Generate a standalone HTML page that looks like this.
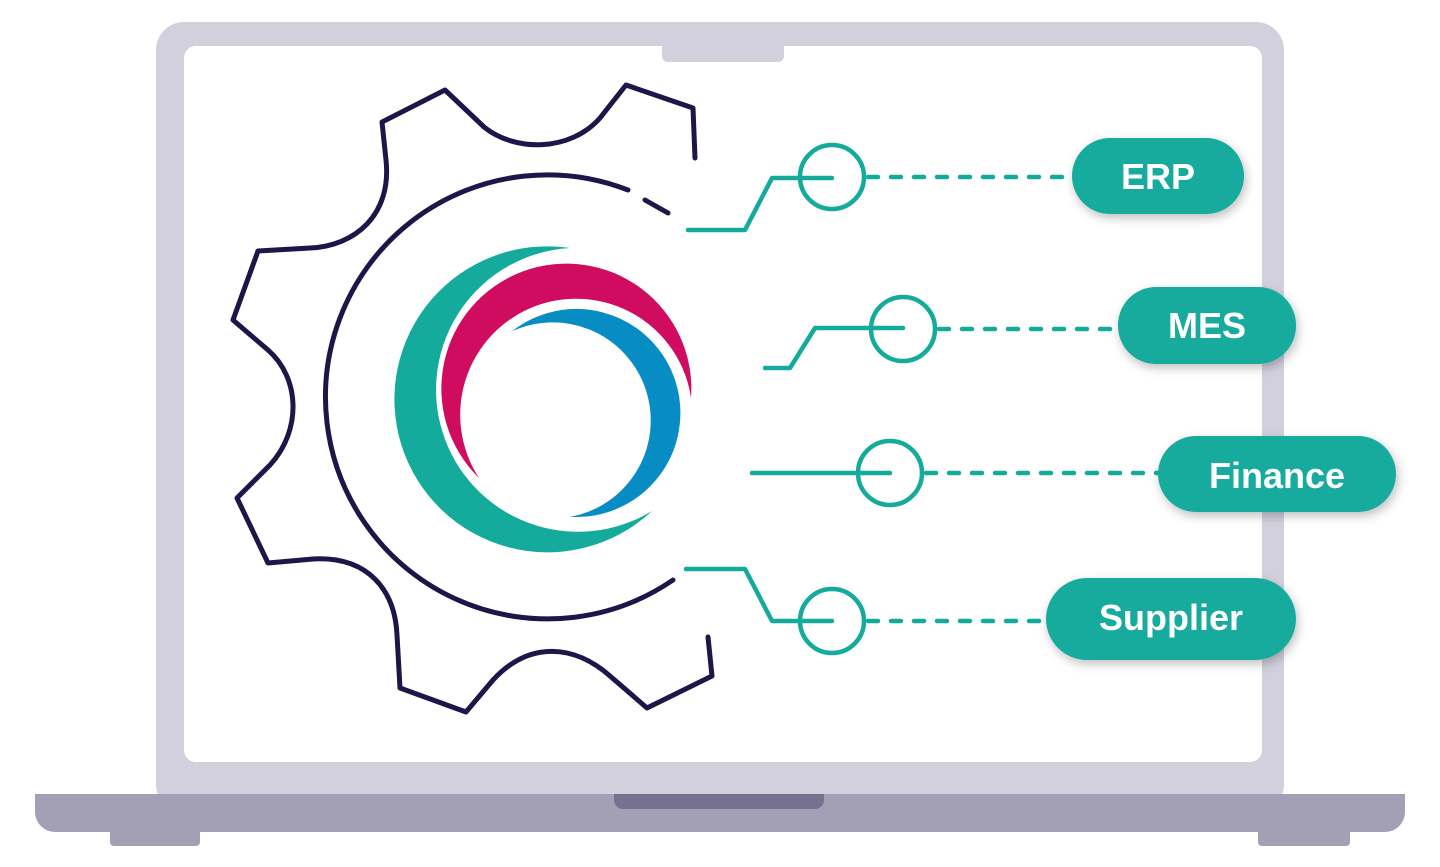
<!DOCTYPE html>
<html><head><meta charset="utf-8"><style>
html,body{margin:0;padding:0;background:#fff;width:1440px;height:867px;overflow:hidden}
svg{display:block}
text{font-family:"Liberation Sans",Arial,sans-serif;font-weight:bold;fill:#fff}
</style></head><body>
<svg width="1440" height="867" viewBox="0 0 1440 867" xmlns="http://www.w3.org/2000/svg">
<defs>
<filter id="sh" x="-20%" y="-30%" width="140%" height="170%"><feDropShadow dx="2" dy="4" stdDeviation="5" flood-color="#000" flood-opacity="0.25"/></filter>
</defs>
<!-- laptop -->
<rect x="156" y="22" width="1128" height="790" rx="28" fill="#d2d0dc"/>
<rect x="184" y="46" width="1078" height="716" rx="12" fill="#fff"/>
<path d="M662 46 H784 V56 a6 6 0 0 1 -6 6 H668 a6 6 0 0 1 -6 -6Z" fill="#d2d0dc"/>
<path d="M35 794 H1405 V812 a20 20 0 0 1 -20 20 H55 a20 20 0 0 1 -20 -20Z" fill="#a39fb5"/>
<path d="M614 794 H824 V800 a9 9 0 0 1 -9 9 H623 a9 9 0 0 1 -9 -9Z" fill="#77708f"/>
<path d="M110 832 H200 V842 a4 4 0 0 1 -4 4 H114 a4 4 0 0 1 -4 -4Z" fill="#a39fb5"/>
<path d="M1258 832 H1350 V842 a4 4 0 0 1 -4 4 H1262 a4 4 0 0 1 -4 -4Z" fill="#a39fb5"/>
<!-- gear -->
<g fill="none" stroke="#1e1548" stroke-width="5" stroke-linecap="round" stroke-linejoin="round">
<path d="M695 158 L693 108 L626 85 L600 118 C570 152 515 152 484 127 L445 90 L382 122 L386 160 C392 215 355 246 310 248 L258 251 L233 320 L268 350 C300 378 302 430 270 465 L237 498 L268 563 L313 559 C368 556 395 590 397 635 L400 688 L466 712 L493 680 C530 640 575 645 610 676 L647 708 L712 676 L708 637"/>
<path d="M628 190 A222 222 0 1 0 673 580"/>
<path d="M645 200 L668 213"/>
</g>
<!-- logo -->
<path d="M570 248 A153 153 0 1 0 652 511 A142 142 0 1 1 570 248Z" fill="#14ab9c"/>
<path d="M479 478 A125 125 0 1 1 691 398 A116 116 0 1 0 479 478Z" fill="#cf0c5f"/>
<path d="M505 336 A105 105 0 1 1 562 517 A97 97 0 1 0 505 336Z" fill="#078cc4" stroke="#fff" stroke-width="2"/>
<!-- connectors -->
<g fill="none" stroke="#14ab9c" stroke-width="4.5" stroke-linecap="round" stroke-linejoin="round">
<path d="M688 230 H745 L772 178 H832"/>
<circle cx="832" cy="177" r="32"/>
<path d="M868 177 H1072" stroke-dasharray="10 13"/>
<path d="M765 368 H790 L815 328 H903"/>
<circle cx="903" cy="329" r="32"/>
<path d="M939 329 H1118" stroke-dasharray="10 13"/>
<path d="M752 473 H890"/>
<circle cx="890" cy="473" r="32"/>
<path d="M926 473 H1158" stroke-dasharray="10 13"/>
<path d="M686 569 H745 L772 621 H832"/>
<circle cx="832" cy="621" r="32"/>
<path d="M868 621 H1046" stroke-dasharray="10 13"/>
</g>
<!-- pills -->
<g fill="#14ab9c" filter="url(#sh)">
<rect x="1072" y="138" width="172" height="76" rx="38"/>
<rect x="1118" y="287" width="178" height="77" rx="38"/>
<rect x="1158" y="436" width="238" height="76" rx="38"/>
<rect x="1046" y="578" width="250" height="82" rx="41"/>
</g>
<text x="1158" y="189" font-size="36" text-anchor="middle">ERP</text>
<text x="1207" y="338" font-size="36" text-anchor="middle">MES</text>
<text x="1277" y="488" font-size="36" text-anchor="middle">Finance</text>
<text x="1171" y="630" font-size="36" text-anchor="middle">Supplier</text>
</svg>
</body></html>
